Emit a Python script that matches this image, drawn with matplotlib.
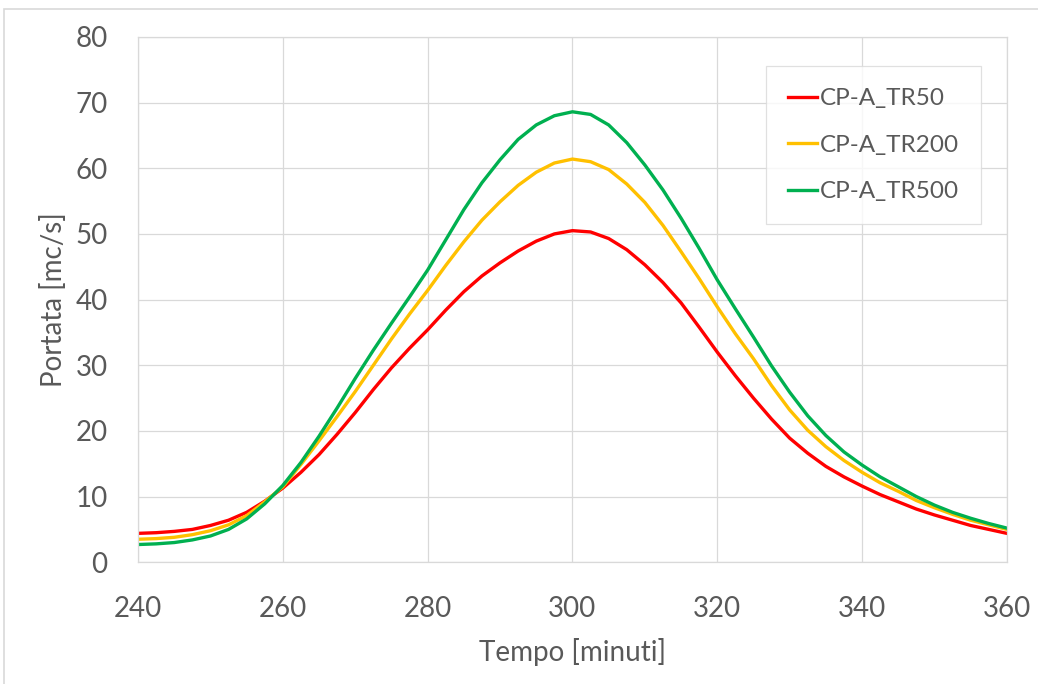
import matplotlib
matplotlib.use("Agg")
import matplotlib.pyplot as plt
from matplotlib.patches import Rectangle

# -----------------------------
# Data (every 2.5 minutes)
# -----------------------------
tempo = [240, 242.5, 245, 247.5, 250, 252.5, 255, 257.5, 260, 262.5, 265, 267.5,
         270, 272.5, 275, 277.5, 280, 282.5, 285, 287.5, 290, 292.5, 295, 297.5,
         300, 302.5, 305, 307.5, 310, 312.5, 315, 317.5, 320, 322.5, 325, 327.5,
         330, 332.5, 335, 337.5, 340, 342.5, 345, 347.5, 350, 352.5, 355, 357.5, 360]

tr50 = [4.4, 4.5, 4.7, 5.0, 5.6, 6.4, 7.6, 9.3, 11.3, 13.7, 16.4, 19.5,
        22.8, 26.3, 29.6, 32.6, 35.4, 38.4, 41.2, 43.6, 45.6, 47.4, 48.9, 50.0,
        50.5, 50.3, 49.3, 47.6, 45.3, 42.6, 39.5, 35.8, 32.0, 28.4, 25.0, 21.8,
        18.9, 16.6, 14.6, 13.0, 11.6, 10.3, 9.2, 8.1, 7.2, 6.4, 5.6, 5.0, 4.4]

tr200 = [3.5, 3.6, 3.8, 4.2, 4.8, 5.7, 7.1, 9.2, 11.5, 14.9, 18.5, 22.2,
         26.0, 30.0, 34.0, 37.8, 41.4, 45.2, 48.8, 52.1, 54.9, 57.4, 59.4, 60.8,
         61.4, 61.0, 59.8, 57.6, 54.8, 51.3, 47.3, 43.2, 38.9, 34.8, 31.0, 26.9,
         23.2, 20.1, 17.6, 15.5, 13.7, 12.1, 10.8, 9.4, 8.3, 7.3, 6.4, 5.7, 5.0]

tr500 = [2.7, 2.8, 3.0, 3.4, 4.0, 5.0, 6.6, 8.9, 11.7, 15.2, 19.2, 23.5,
         28.0, 32.3, 36.4, 40.4, 44.5, 49.1, 53.7, 57.8, 61.3, 64.4, 66.6, 68.0,
         68.6, 68.2, 66.6, 63.9, 60.5, 56.7, 52.4, 47.8, 43.0, 38.6, 34.3, 29.9,
         25.9, 22.3, 19.3, 16.8, 14.8, 13.0, 11.5, 10.0, 8.7, 7.6, 6.7, 5.9, 5.2]

labels = ["CP-A_TR50", "CP-A_TR200", "CP-A_TR500"]
colors = ["#FF0000", "#FFC000", "#00B050"]

xticks = [240, 260, 280, 300, 320, 340, 360]
yticks = [0, 10, 20, 30, 40, 50, 60, 70, 80]

# -----------------------------
# Plot
# -----------------------------
plt.rcParams['font.family'] = ['Lato', 'DejaVu Sans']
text_col = "#595959"
grid_col = "#D9D9D9"

fig = plt.figure(figsize=(10.38, 6.84), dpi=100)
ax = fig.add_axes([0.133, 0.178, 0.837, 0.768])

for serie, lab, col in zip([tr50, tr200, tr500], labels, colors):
    ax.plot(tempo, serie, color=col, lw=2.4, label=lab, solid_joinstyle='round')

ax.set_xlim(240, 360)
ax.set_ylim(0, 80)
ax.set_xticks(xticks)
ax.set_yticks(yticks)
ax.grid(True, color=grid_col, lw=0.9)
ax.set_axisbelow(True)
ax.tick_params(length=0, labelsize=20, colors=text_col)
ax.tick_params(axis='x', pad=24)
ax.tick_params(axis='y', pad=22)
for sp in ax.spines.values():
    sp.set_color(grid_col)
    sp.set_linewidth(0.9)

ax.set_xlabel("Tempo [minuti]", fontsize=20, color=text_col, labelpad=12)
ax.set_ylabel("Portata [mc/s]", fontsize=20, color=text_col, labelpad=6)

leg = ax.legend(loc='upper right', bbox_to_anchor=(0.984, 0.967), fontsize=17.5,
                frameon=True, fancybox=False, labelspacing=1.05, handlelength=1.2,
                handletextpad=0.1, borderpad=0.9, labelcolor=text_col)
leg.get_frame().set_edgecolor(grid_col)
leg.get_frame().set_linewidth(0.9)

# outer chart border (only left and top edges fall inside the image)
fig.patches.append(Rectangle((0.004, -0.1), 1.2, 1.087, transform=fig.transFigure,
                             fill=False, edgecolor=grid_col, lw=1.2))

fig.savefig("out.png", dpi=100)
